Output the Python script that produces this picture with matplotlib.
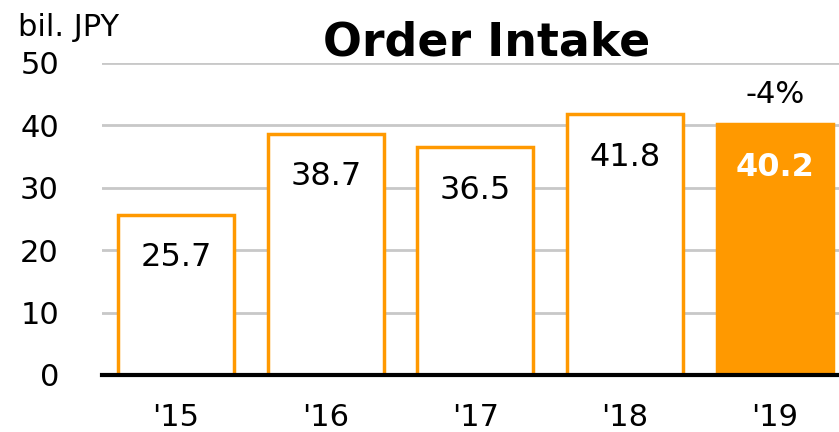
import matplotlib.pyplot as plt

years = ["'15", "'16", "'17", "'18", "'19"]
orders = [25.7, 38.7, 36.5, 41.8, 40.2]
change_label = "-4%"
orange = "#FF9900"

fig = plt.figure(figsize=(8.39, 4.32), dpi=100)
ax = fig.add_axes([102 / 839, 1 - 375 / 432, 737 / 839, 312 / 432])

x = range(len(years))
for i, v in zip(x, orders):
    last = i == len(years) - 1
    ax.bar(i, v, width=0.775, color=orange if last else "white",
           edgecolor=orange, linewidth=2.5, zorder=3)
    ax.annotate(f"{v:.1f}", (i, v), xytext=(0, -31), textcoords="offset points",
                ha="center", va="center", fontsize=23,
                color="white" if last else "black",
                fontweight="bold" if last else "normal", zorder=4)

ax.annotate(change_label, (len(years) - 1, orders[-1]), xytext=(0, 21),
            textcoords="offset points", ha="center", va="center", fontsize=22)

ax.set_xlim(-0.495, 4.43)
ax.set_ylim(0, 50)
ax.set_yticks(range(0, 51, 10))
ax.set_xticks(list(x))
ax.set_xticklabels(years)
ax.tick_params(axis="y", length=0, labelsize=22, pad=31)
ax.tick_params(axis="x", length=0, labelsize=22, pad=20)
ax.grid(axis="y", color="#C8C8C8", linewidth=2, zorder=0)
for s in ["top", "right", "left"]:
    ax.spines[s].set_visible(False)
ax.spines["bottom"].set_linewidth(3)
ax.spines["bottom"].set_zorder(5)

fig.text(487 / 839, 1 - 56 / 432, "Order Intake", ha="center", va="baseline",
         fontsize=33, fontweight="bold")
fig.text(18 / 839, 1 - 36.5 / 432, "bil. JPY", ha="left", va="baseline", fontsize=22)

fig.savefig("out.png", dpi=100)
